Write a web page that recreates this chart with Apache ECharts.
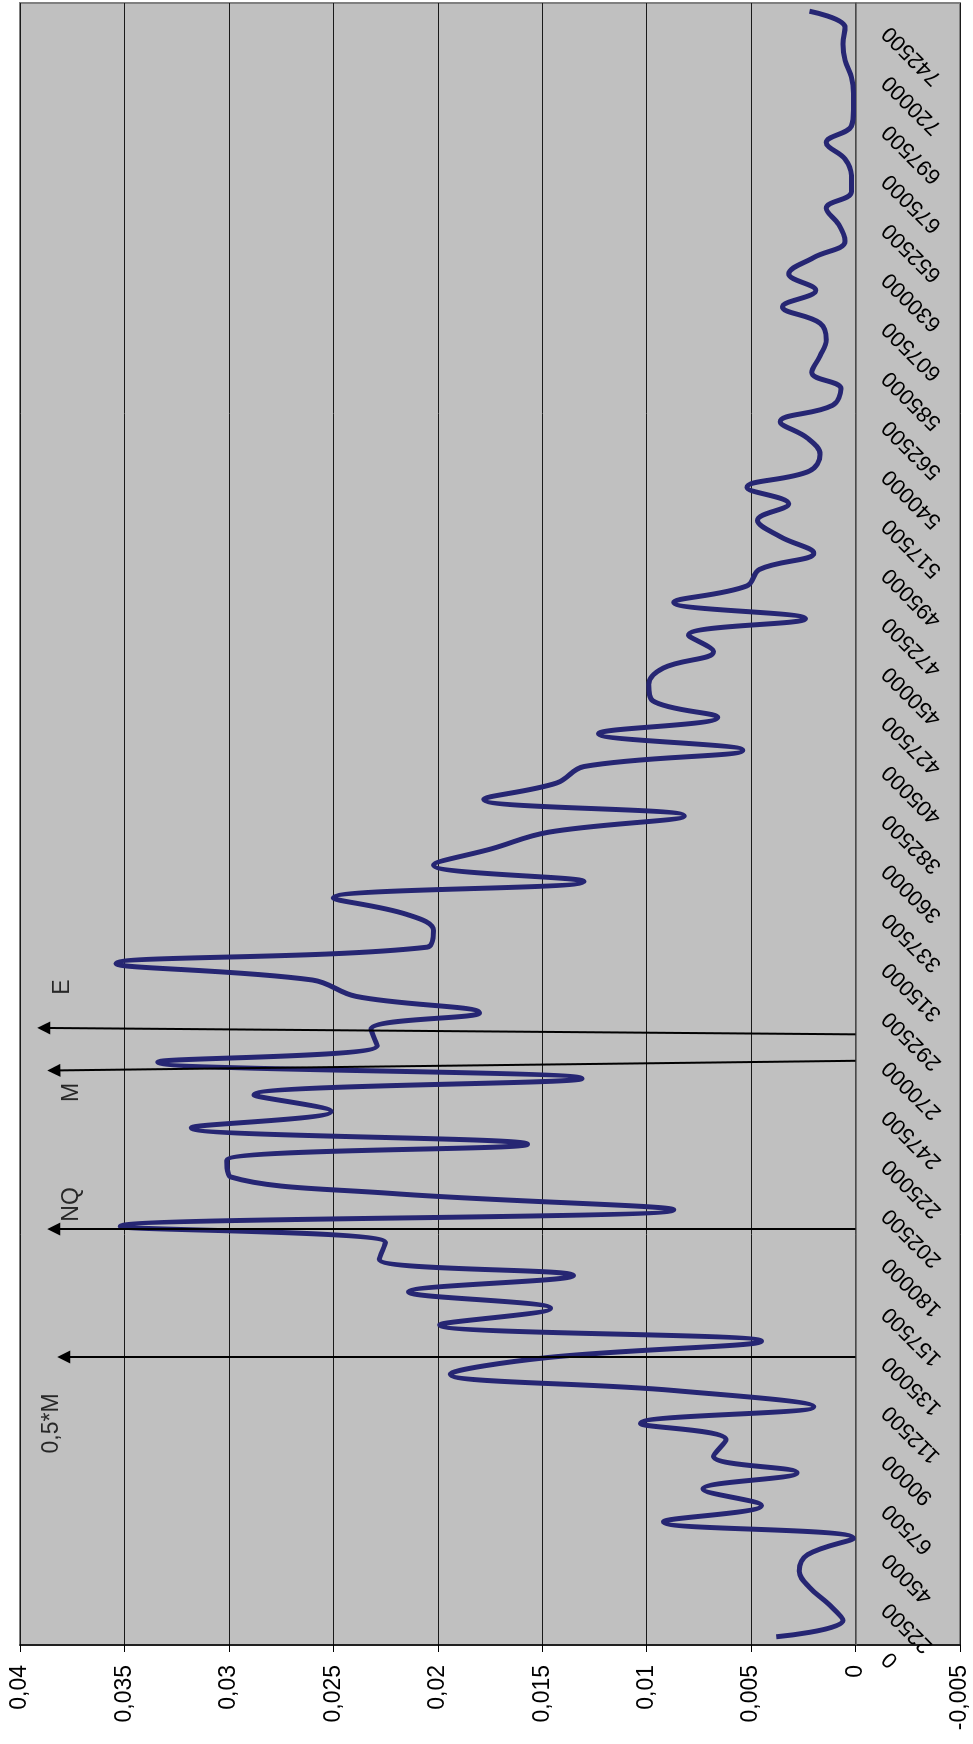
<!DOCTYPE html>
<html>
<head>
<meta charset="utf-8">
<script src="https://cdn.jsdelivr.net/npm/echarts@6/dist/echarts.min.js"></script>
<style>
html,body{margin:0;padding:0;background:#fff;width:973px;height:1744px;overflow:hidden;}
#wrap{position:absolute;left:0;top:0;width:1744px;height:973px;transform-origin:0 0;transform:translate(0,1744px) rotate(-90deg);}
</style>
</head>
<body>
<div id="wrap"></div>
<script>
// Categories (x values)
const categories = ['0','7500','15000','22500','30000','37500','45000','52500','60000','67500','75000','82500','90000','97500','105000','112500','120000','127500','135000','142500','150000','157500','165000','172500','180000','187500','195000','202500','210000','217500','225000','232500','240000','247500','255000','262500','270000','277500','285000','292500','300000','307500','315000','322500','330000','337500','345000','352500','360000','367500','375000','382500','390000','397500','405000','412500','420000','427500','435000','442500','450000','457500','465000','472500','480000','487500','495000','502500','510000','517500','525000','532500','540000','547500','555000','562500','570000','577500','585000','592500','600000','607500','615000','622500','630000','637500','645000','652500','660000','667500','675000','682500','690000','697500','705000','712500','720000','727500','735000','742500'];

// Series values
const values = [
0.0038,0.0006,0.0013,0.0022,0.0027,0.0023,0.0001,0.0092,0.0045,0.0073,
0.0028,0.0068,0.0062,0.0103,0.0020,0.0087,0.0194,0.0148,0.0045,0.0199,
0.0146,0.0214,0.0135,0.0228,0.0225,0.0352,0.0087,0.0222,0.0299,0.0301,
0.0157,0.0318,0.0251,0.0288,0.0131,0.0334,0.0229,0.0232,0.0180,0.0239,
0.0260,0.0354,0.0205,0.0202,0.0215,0.0250,0.0130,0.0202,0.0174,0.0147,
0.0082,0.0178,0.0143,0.0130,0.0054,0.0123,0.0066,0.0097,0.0099,0.0092,
0.0068,0.0080,0.0024,0.0087,0.0052,0.0046,0.0020,0.0036,0.0047,0.0032,
0.0052,0.0022,0.0017,0.0023,0.0036,0.0011,0.0007,0.0021,0.0017,0.0014,
0.0017,0.0035,0.0019,0.0032,0.0020,0.0005,0.0008,0.0014,0.0002,0.0002,
0.0005,0.0014,0.0002,0.0001,0.0001,0.0002,0.0005,0.0006,0.0005,0.0022];

// Value axis ticks
const valueMin = -0.005, valueMax = 0.04, valueStep = 0.005;

// Annotation arrows (category-index positions)
const arrowNames = ['E','M','NQ','0,5*M'];
const arrowBasePos = [36.69, 35.08, 24.83, 17.04];
const arrowTipPos  = [37.08, 34.49, 24.83, 17.04];
const arrowTipVal  = [0.03886, 0.03838, 0.03838, 0.0379];
const labelPos = [39.57, 33.15, 26.33, 12.99];
const labelVal = [0.03798, 0.03752, 0.03752, 0.03848];

const arrowData = arrowNames.map((n,i)=>({coords:[[arrowBasePos[i],0],[arrowTipPos[i],arrowTipVal[i]]]}));
const labelData = arrowNames.map((n,i)=>[labelPos[i], labelVal[i], n]);

const gridTop = 20, gridBottom = 13, H = 973;
const plotH = H - gridTop - gridBottom;
// distance from plot bottom (value min) up to the zero line, in pixels
const zeroOffset = -plotH * (0 - valueMin) / (valueMax - valueMin);

const chart = echarts.init(document.getElementById('wrap'));
chart.setOption({
  animation:false,
  backgroundColor:'#ffffff',
  grid:{left:99,right:3,top:gridTop,bottom:gridBottom,outerBoundsMode:'none',show:true,backgroundColor:'#c0c0c0',borderColor:'#808080',borderWidth:2},
  xAxis:[{
    type:'category',data:categories,boundaryGap:true,position:'bottom',offset:zeroOffset,
    axisLine:{onZero:false,lineStyle:{color:'#5a5a5a',width:1.5}},
    axisTick:{interval:0,length:6,lineStyle:{color:'#5a5a5a',width:1}},
    axisLabel:{interval:2,rotate:45,margin:12,padding:[0,26,0,0],fontFamily:'Liberation Sans, Arial, sans-serif',fontSize:22,color:'#000'},
    splitLine:{show:false}
  },{
    type:'value',min:-0.5,max:99.5,show:false,axisLine:{onZero:false}
  }],
  yAxis:{
    type:'value',min:valueMin,max:valueMax,interval:valueStep,
    axisLine:{show:true,onZero:false,lineStyle:{color:'#000',width:1.5}},
    axisTick:{show:true,length:7,lineStyle:{color:'#000'}},
    axisLabel:{margin:20,fontFamily:'Liberation Sans, Arial, sans-serif',fontSize:23,color:'#000',
      formatter:v=>String(Math.round(v*1000)/1000).replace('.',',')},
    splitLine:{show:true,lineStyle:{color:'#1a1a1a',width:1}}
  },
  series:[{
    type:'line',data:values,smooth:0.4,showSymbol:false,
    lineStyle:{color:'#262673',width:5},
    z:3
  },{
    type:'lines',coordinateSystem:'cartesian2d',xAxisIndex:1,yAxisIndex:0,
    data:arrowData,
    symbol:['none','triangle'],symbolSize:13,
    lineStyle:{color:'#000',width:2,opacity:1},
    z:4
  },{
    type:'scatter',xAxisIndex:1,yAxisIndex:0,data:labelData,symbolSize:1,
    itemStyle:{color:'rgba(0,0,0,0)'},
    label:{show:true,position:'inside',formatter:p=>p.data[2],fontFamily:'Liberation Sans, Arial, sans-serif',fontSize:23,color:'#000'},
    z:5
  }]
});
</script>
</body>
</html>
